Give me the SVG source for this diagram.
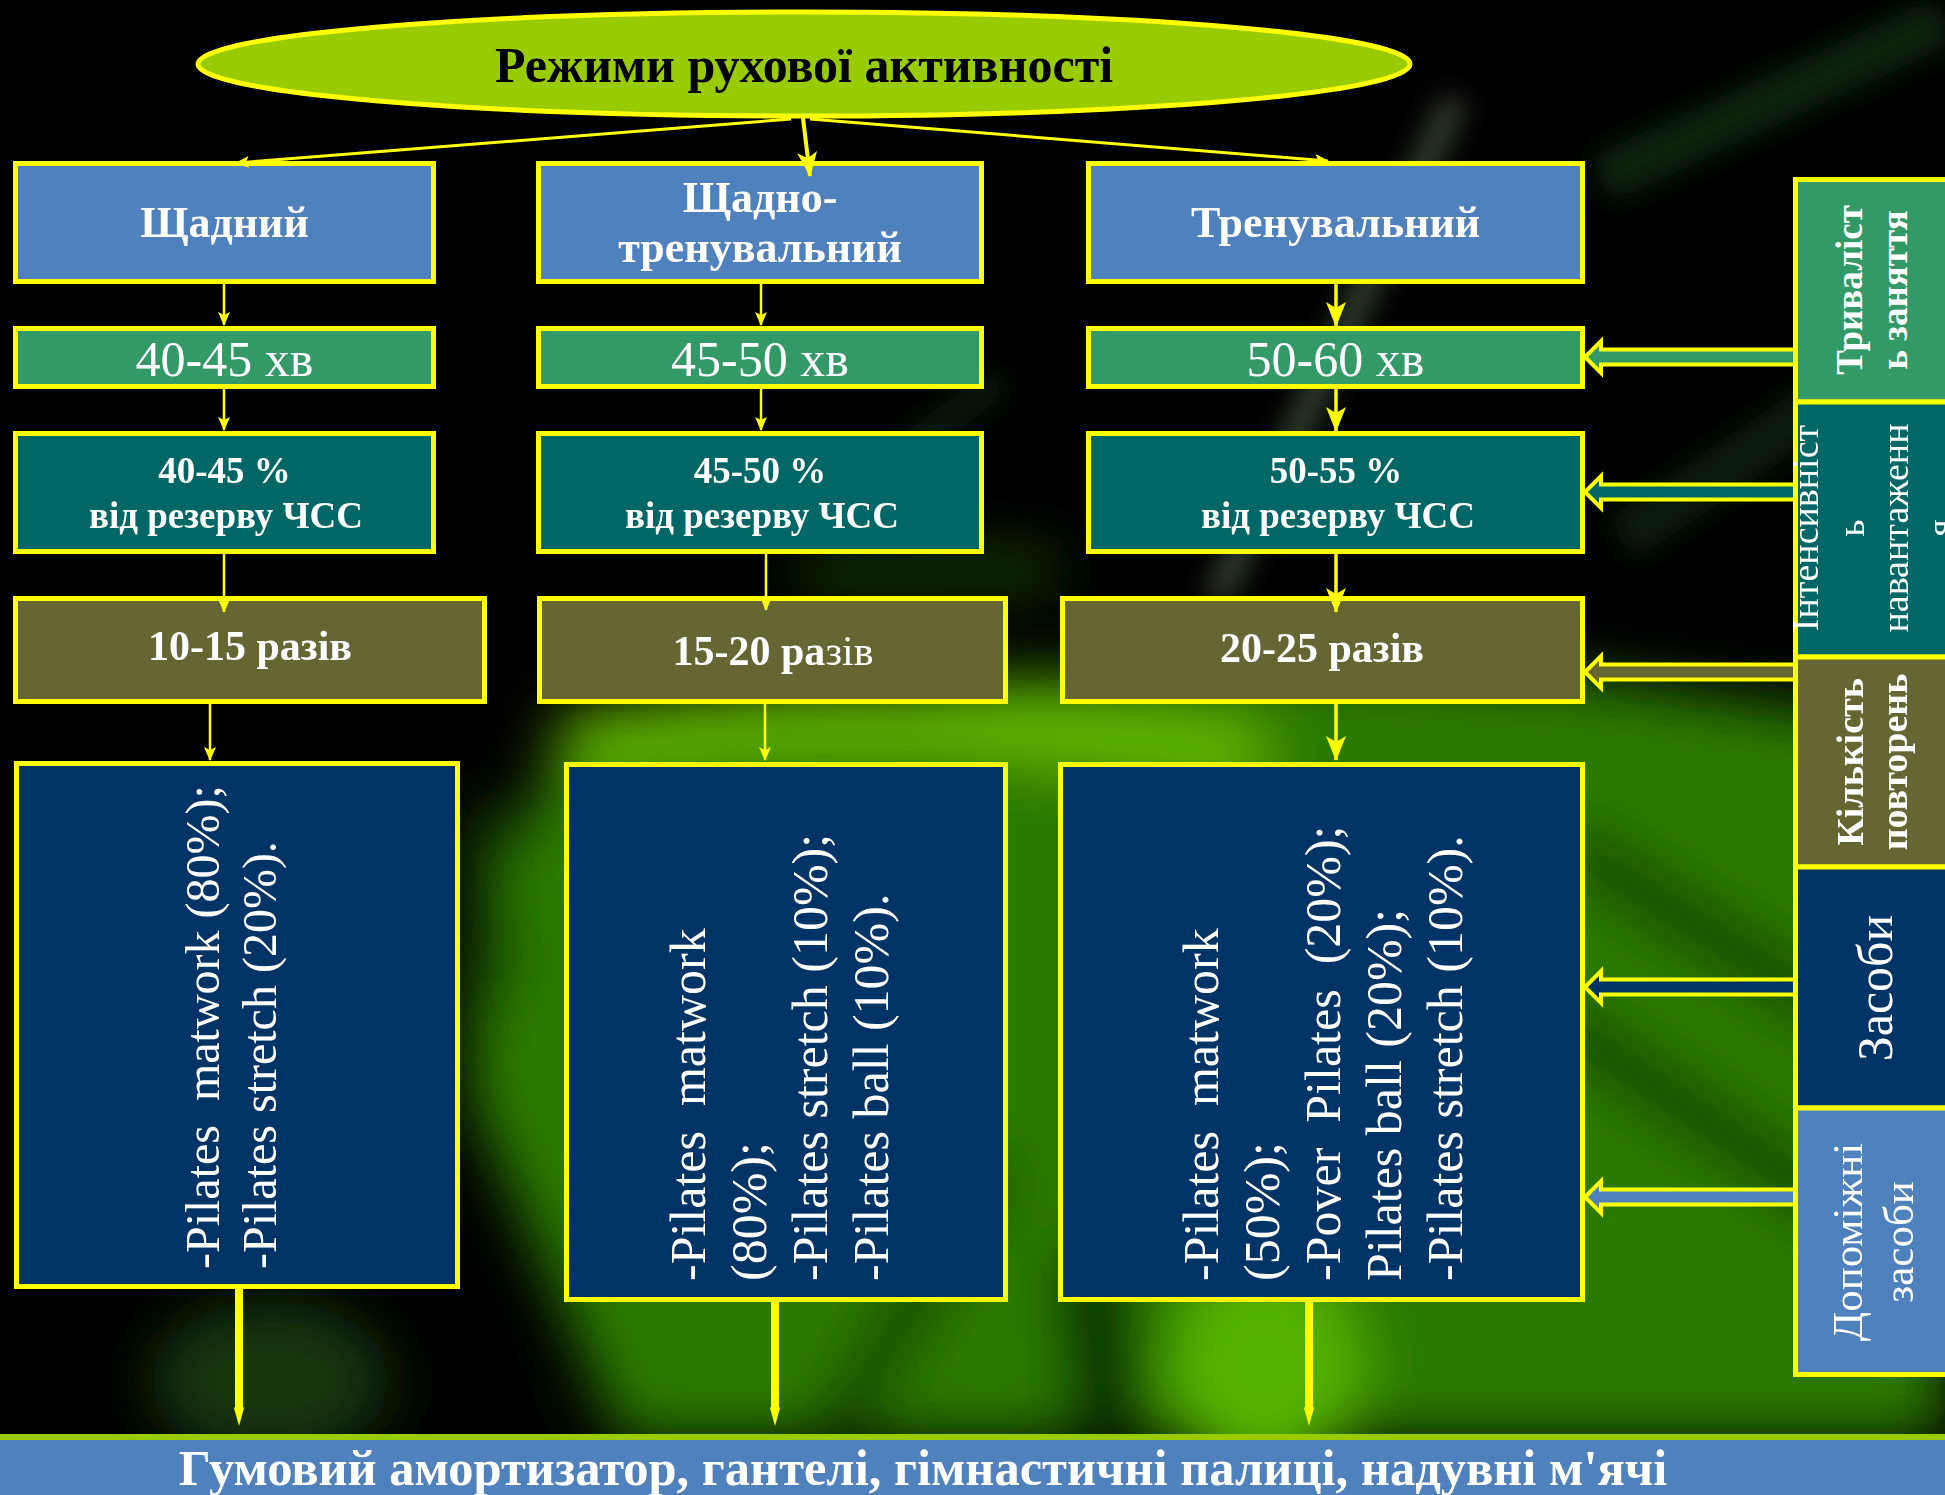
<svg xmlns="http://www.w3.org/2000/svg" width="1945" height="1495" viewBox="0 0 1945 1495">
<style>
.box{stroke:#FFFF00;stroke-width:5}
.blue{fill:#4F81BD}.green{fill:#339966}.teal{fill:#006666}.olive{fill:#666633}.navy{fill:#003366}
text{font-family:"Liberation Serif","Times New Roman",serif;fill:#FFFFFF}
.b{font-weight:bold}
.c{text-anchor:middle}
.con{stroke:#FFFF00;fill:none}
.harrow{stroke:#FFFF00;stroke-width:4;stroke-linejoin:miter}
</style>
<defs>
<filter id="blur" x="-30%" y="-30%" width="160%" height="160%"><feGaussianBlur stdDeviation="30"/></filter>
<filter id="blur2" x="-30%" y="-30%" width="160%" height="160%"><feGaussianBlur stdDeviation="14"/></filter>
<marker id="ah" viewBox="0 0 14 12" refX="13" refY="6" markerWidth="14" markerHeight="12" markerUnits="userSpaceOnUse" orient="auto"><path d="M0,0 L14,6 L0,12 L3,6 z" fill="#FFFF00"/></marker>
<marker id="ahb" viewBox="0 0 25 20" refX="24" refY="10" markerWidth="25" markerHeight="20" markerUnits="userSpaceOnUse" orient="auto"><path d="M0,0 L25,10 L0,20 L6,10 z" fill="#FFFF00"/></marker>
</defs>

<g id="background">
<rect width="1945" height="1495" fill="#000000"/>
<g filter="url(#blur)">
<polygon fill="#2a7a00" points="620,1440 1945,1440 1945,730 1600,680 1250,660 980,680 760,710 560,760 470,900 470,1100 560,1300"/>
<ellipse cx="270" cy="1380" rx="120" ry="80" fill="#12380a"/>
<ellipse cx="1265" cy="1370" rx="95" ry="110" fill="#55b400"/>
<path d="M560,745 Q 800,705 1000,725 T 1260,760" stroke="#66c000" stroke-width="55" fill="none"/>
<path d="M800,575 L1060,570" stroke="#1c4a08" stroke-width="35" fill="none"/>
<path d="M1110,1440 L1090,1250" stroke="#041a00" stroke-width="70" fill="none"/>
<path d="M830,1440 L1000,1160" stroke="#0a2a00" stroke-width="40" fill="none"/>
<path d="M1560,840 L1945,1080" stroke="#0a3000" stroke-width="45" fill="none"/>
<path d="M1540,1010 L1945,1280" stroke="#0a3000" stroke-width="45" fill="none"/>
<path d="M470,800 L500,1000" stroke="#0a2a00" stroke-width="30" fill="none"/>
<path d="M430,1440 L520,1440" stroke="#000000" stroke-width="60" fill="none"/>
</g>
<g filter="url(#blur2)">
<path d="M1216,600 L1455,100" stroke="#7f9f70" stroke-width="24" fill="none" opacity="0.45"/>
<path d="M1600,180 L1945,20" stroke="#143a14" stroke-width="50" fill="none" opacity="0.6"/>
<path d="M1620,540 L1945,320" stroke="#143a14" stroke-width="50" fill="none" opacity="0.5"/>
<path d="M880,470 L1000,380" stroke="#1a3a18" stroke-width="30" fill="none" opacity="0.5"/>
</g>
</g>

<g id="title">
<ellipse cx="804" cy="64" rx="606" ry="52" fill="#99CC00" stroke="#FFFF00" stroke-width="5"/>
<text x="804" y="82" class="b c" font-size="50" style="fill:#000000">Режими рухової активності</text>
</g>

<g id="node-a1"><rect class="box blue" x="15.5" y="163.5" width="418" height="118"/><text x="224.5" y="237" class="b c" font-size="44">Щадний</text></g>
<g id="node-b1"><rect class="box blue" x="538.5" y="163.5" width="443" height="118"/><text x="760" y="212" class="b c" font-size="44">Щадно-</text><text x="760" y="262" class="b c" font-size="44">тренувальний</text></g>
<g id="node-c1"><rect class="box blue" x="1088.5" y="163.5" width="494" height="118"/><text x="1335.5" y="237" class="b c" font-size="44">Тренувальний</text></g>

<g id="node-a2"><rect class="box green" x="15.5" y="328.5" width="418" height="58"/><text x="224.5" y="376" class="c" font-size="50">40-45 хв</text></g>
<g id="node-b2"><rect class="box green" x="538.5" y="328.5" width="443" height="58"/><text x="760" y="376" class="c" font-size="50">45-50 хв</text></g>
<g id="node-c2"><rect class="box green" x="1088.5" y="328.5" width="494" height="58"/><text x="1335.5" y="376" class="c" font-size="50">50-60 хв</text></g>

<g id="node-a3"><rect class="box teal" x="15.5" y="433.5" width="418" height="118"/><text x="224.5" y="483" class="b c" font-size="37">40-45 %</text><text x="226" y="528" class="b c" font-size="37">від резерву ЧСС</text></g>
<g id="node-b3"><rect class="box teal" x="538.5" y="433.5" width="443" height="118"/><text x="760" y="483" class="b c" font-size="37">45-50 %</text><text x="762" y="528" class="b c" font-size="37">від резерву ЧСС</text></g>
<g id="node-c3"><rect class="box teal" x="1088.5" y="433.5" width="494" height="118"/><text x="1336" y="483" class="b c" font-size="37">50-55 %</text><text x="1338" y="528" class="b c" font-size="37">від резерву ЧСС</text></g>

<g id="node-a4"><rect class="box olive" x="15.5" y="598.5" width="469" height="103"/><text x="250" y="660" class="b c" font-size="42">10-15 разів</text></g>
<g id="node-b4"><rect class="box olive" x="539.5" y="598.5" width="466" height="103"/><text x="773" y="665" class="b c" font-size="42">15-20 ра<tspan font-weight="normal">зів</tspan></text></g>
<g id="node-c4"><rect class="box olive" x="1062.5" y="598.5" width="520" height="103"/><text x="1322" y="662" class="b c" font-size="42">20-25 разів</text></g>

<g id="node-a5"><rect class="box navy" x="16.5" y="763.5" width="441" height="523"/>
<text transform="translate(219,1269) rotate(-90)" font-size="48"><tspan x="0" y="0">-Pilates&#160; matwork (80%);</tspan><tspan x="0" dy="57">-Pilates stretch (20%).</tspan></text></g>
<g id="node-b5"><rect class="box navy" x="566.5" y="764.5" width="439" height="535"/>
<text transform="translate(705,1281) rotate(-90)" font-size="50"><tspan x="0" y="0">-Pilates&#160; matwork</tspan><tspan x="0" dy="61">(80%);</tspan><tspan x="0" dy="61">-Pilates stretch (10%);</tspan><tspan x="0" dy="61">-Pilates ball (10%).</tspan></text></g>
<g id="node-c5"><rect class="box navy" x="1060.5" y="764.5" width="522" height="535"/>
<text transform="translate(1218,1281) rotate(-90)" font-size="50"><tspan x="0" y="0">-Pilates&#160; matwork</tspan><tspan x="0" dy="61">(50%);</tspan><tspan x="0" dy="61">-Pover&#160; Pilates&#160; (20%);</tspan><tspan x="0" dy="61">Pilates ball (20%);</tspan><tspan x="0" dy="61">-Pilates stretch (10%).</tspan></text></g>

<g id="side-duration"><rect class="box green" x="1795.5" y="179.5" width="200" height="222.5"/>
<text transform="translate(1862,290) rotate(-90)" class="b c" font-size="37">Триваліст</text>
<text transform="translate(1907,290) rotate(-90)" class="b c" font-size="37">ь заняття</text></g>
<g id="side-intensity"><rect class="box teal" x="1795.5" y="402" width="200" height="255"/>
<text transform="translate(1818,528) rotate(-90)" class="c" font-size="38">Інтенсивніст</text>
<text transform="translate(1864,528) rotate(-90)" class="c" font-size="38">ь</text>
<text transform="translate(1908,528) rotate(-90)" class="c" font-size="38">навантаженн</text>
<text transform="translate(1953,528) rotate(-90)" class="c" font-size="38">я</text></g>
<g id="side-reps"><rect class="box olive" x="1795.5" y="657" width="200" height="210"/>
<text transform="translate(1863,762) rotate(-90)" class="b c" font-size="38">Кількість</text>
<text transform="translate(1907,762) rotate(-90)" class="b c" font-size="38">повторень</text></g>
<g id="side-means"><rect class="box navy" x="1795.5" y="867" width="200" height="241"/>
<text transform="translate(1892,988) rotate(-90)" class="c" font-size="50">Засоби</text></g>
<g id="side-aux"><rect class="box blue" x="1795.5" y="1108" width="200" height="266.5"/>
<text transform="translate(1862,1242) rotate(-90)" class="c" font-size="43">Допоміжні</text>
<text transform="translate(1913,1242) rotate(-90)" class="c" font-size="43">засоби</text></g>

<g id="banner">
<rect x="0" y="1435" width="1945" height="60" fill="#4F81BD"/>
<rect x="0" y="1434" width="1945" height="6" fill="#99CC00"/>
<text x="923" y="1485" class="b c" font-size="50.5">Гумовий амортизатор, гантелі, гімнастичні палиці, надувні м'ячі</text>
</g>

<g id="connectors">
<line class="con" stroke-width="3" x1="791" y1="119" x2="236" y2="163" marker-end="url(#ah)"/>
<line class="con" stroke-width="4" x1="803" y1="118" x2="810" y2="176" marker-end="url(#ahb)"/>
<line class="con" stroke-width="3" x1="810" y1="119" x2="1328" y2="161" marker-end="url(#ah)"/>

<line class="con" stroke-width="2.5" x1="224" y1="284" x2="224" y2="325" marker-end="url(#ah)"/>
<line class="con" stroke-width="2.5" x1="224" y1="389" x2="224" y2="430" marker-end="url(#ah)"/>
<line class="con" stroke-width="2.5" x1="224" y1="554" x2="224" y2="612" marker-end="url(#ah)"/>
<line class="con" stroke-width="2.5" x1="210" y1="704" x2="210" y2="760" marker-end="url(#ah)"/>

<line class="con" stroke-width="2.5" x1="761" y1="284" x2="761" y2="325" marker-end="url(#ah)"/>
<line class="con" stroke-width="2.5" x1="761" y1="389" x2="761" y2="430" marker-end="url(#ah)"/>
<line class="con" stroke-width="2.5" x1="766" y1="554" x2="766" y2="610" marker-end="url(#ah)"/>
<line class="con" stroke-width="2.5" x1="765" y1="704" x2="765" y2="760" marker-end="url(#ah)"/>

<line class="con" stroke-width="3.5" x1="1336" y1="284" x2="1336" y2="326" marker-end="url(#ahb)"/>
<line class="con" stroke-width="3.5" x1="1336" y1="389" x2="1336" y2="431" marker-end="url(#ahb)"/>
<line class="con" stroke-width="3.5" x1="1336" y1="554" x2="1336" y2="612" marker-end="url(#ahb)"/>
<line class="con" stroke-width="3.5" x1="1336" y1="704" x2="1336" y2="760" marker-end="url(#ahb)"/>

<polygon class="harrow green" points="1795,349.5 1601,349.5 1601,341 1585,357 1601,373 1601,364.5 1795,364.5"/>
<polygon class="harrow teal" points="1795,484.5 1601,484.5 1601,476 1585,492 1601,508 1601,499.5 1795,499.5"/>
<polygon class="harrow olive" points="1795,664.5 1601,664.5 1601,656 1585,672 1601,688 1601,679.5 1795,679.5"/>
<polygon class="harrow navy" points="1795,979.5 1601,979.5 1601,971 1585,987 1601,1003 1601,994.5 1795,994.5"/>
<polygon class="harrow blue" points="1795,1189.5 1601,1189.5 1601,1181 1585,1197 1601,1213 1601,1204.5 1795,1204.5"/>

<g fill="#FFFF00">
<line class="con" stroke-width="8" x1="239" y1="1289" x2="239" y2="1410"/>
<polygon points="234,1408 239,1402 244,1408 239,1426"/>
<line class="con" stroke-width="8" x1="775" y1="1302" x2="775" y2="1410"/>
<polygon points="770,1408 775,1402 780,1408 775,1426"/>
<line class="con" stroke-width="8" x1="1309" y1="1302" x2="1309" y2="1410"/>
<polygon points="1304,1408 1309,1402 1314,1408 1309,1426"/>
</g>
</g>
</svg>
